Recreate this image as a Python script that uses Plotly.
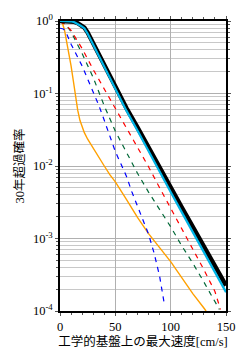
import plotly.graph_objects as go

# ---- data ----
x_black = [0, 5, 10, 13, 16, 19, 22, 25, 30, 40, 50, 60, 70, 80, 90, 100, 110, 120, 130, 140, 150]
y_black = [1, 1, 0.991, 0.973, 0.933, 0.875, 0.813, 0.692, 0.49, 0.245, 0.12, 0.063, 0.034,
           0.0178, 0.0095, 0.005, 0.0027, 0.00145, 7.8e-4, 4.2e-4, 2.24e-4]

x_cyan = [0, 5, 10, 13, 16, 19, 22, 25, 30, 40, 50, 60, 70, 80, 90, 100, 110, 120, 130, 140, 150]
y_cyan = [1, 1, 0.991, 0.962, 0.916, 0.855, 0.791, 0.668, 0.47, 0.232, 0.112, 0.058, 0.0308,
          0.0159, 0.00843, 0.00437, 0.00231, 0.00122, 6.5e-4, 3.43e-4, 1.82e-4]

x_red = [0, 5, 10, 15, 20, 30, 40, 50, 60, 70, 80, 90, 100, 110, 120, 130, 140, 145]
y_red = [0.977, 0.891, 0.741, 0.562, 0.417, 0.214, 0.115, 0.063, 0.0339, 0.0182, 0.00977,
         0.00501, 0.00263, 0.00138, 7.24e-4, 3.72e-4, 1.86e-4, 1.05e-4]

x_green = [0, 5, 10, 15, 20, 30, 40, 50, 60, 70, 80, 90, 100, 110, 120, 130, 140, 144]
y_green = [0.989, 0.912, 0.708, 0.513, 0.355, 0.166, 0.0676, 0.0302, 0.0151, 0.00794, 0.00437,
           0.00251, 0.00145, 7.94e-4, 4.57e-4, 2.51e-4, 1.35e-4, 1.05e-4]

x_blue = [0, 3, 5, 10, 15, 20, 25, 30, 35, 40, 45, 50, 55, 60, 65, 70, 75, 80, 85, 90, 94]
y_blue = [0.794, 0.776, 0.724, 0.479, 0.339, 0.24, 0.158, 0.105, 0.0692, 0.0427, 0.0263, 0.0158,
          0.0107, 0.00724, 0.00437, 0.00275, 0.00178, 0.00115, 6.31e-4, 3.02e-4, 1.32e-4]

x_orange = [0, 2, 4, 6, 8, 10, 12, 14, 16, 18, 20, 22, 25, 30, 35, 40, 45, 50, 60, 70, 80, 90,
            100, 110, 120, 130, 132]
y_orange = [1, 0.955, 0.759, 0.537, 0.363, 0.24, 0.151, 0.0891, 0.0589, 0.0427, 0.0339, 0.0288,
            0.0234, 0.0174, 0.0129, 0.01, 0.00759, 0.00603, 0.00347, 0.00195, 0.00117, 7.59e-4,
            4.79e-4, 2.88e-4, 1.74e-4, 1.1e-4, 1.0e-4]

x_ticks = [0, 50, 100, 150]
y_ticks = [1, 0.1, 0.01, 0.001, 0.0001]
y_ticktext = ["10<sup>0</sup>", "10<sup>-1</sup>", "10<sup>-2</sup>", "10<sup>-3</sup>", "10<sup>-4</sup>"]
y_minor_mult = [2, 3, 4, 5, 6, 7, 8, 9]
y_minor = [m * d for d in [0.0001, 0.001, 0.01, 0.1] for m in y_minor_mult]

x_title = "工学的基盤上の最大速度[cm/s]"
y_title = "30年超過確率"

fig = go.Figure()
fig.add_trace(go.Scatter(x=x_orange, y=y_orange, mode="lines",
                         line=dict(color="#FFA000", width=1.4)))
fig.add_trace(go.Scatter(x=x_blue, y=y_blue, mode="lines",
                         line=dict(color="#0000FF", width=1.2, dash="5px,5px")))
fig.add_trace(go.Scatter(x=x_green, y=y_green, mode="lines",
                         line=dict(color="#006837", width=1.2, dash="5px,5px")))
fig.add_trace(go.Scatter(x=x_red, y=y_red, mode="lines",
                         line=dict(color="#FF0000", width=1.2, dash="5px,5px")))
fig.add_trace(go.Scatter(x=x_black, y=y_black, mode="lines",
                         line=dict(color="#000000", width=4.5)))
fig.add_trace(go.Scatter(x=x_cyan, y=y_cyan, mode="lines",
                         line=dict(color="#00B4E6", width=2.2)))

serif = "Liberation Serif, Noto Sans CJK JP, serif"

fig.update_layout(
    width=247, height=357,
    margin=dict(l=60, r=20, t=16, b=45),
    paper_bgcolor="white", plot_bgcolor="white",
    showlegend=False,
    font=dict(family=serif, size=12, color="black"),
)
fig.update_xaxes(
    range=[0, 150], tickvals=x_ticks,
    showgrid=True, gridcolor="#b0b0b0", gridwidth=1,
    showline=True, linecolor="black", linewidth=1.5, mirror="allticks",
    ticks="outside", ticklen=3, tickcolor="#555",
    minor=dict(dtick=10, ticks="outside", ticklen=2, tickcolor="#555", showgrid=False),
    zeroline=False,
    tickfont=dict(family=serif, size=12.5),
    title=dict(text=x_title, font=dict(family=serif, size=12.5), standoff=2),
)
fig.update_yaxes(
    type="log", range=[-4, 0], tickvals=y_ticks, ticktext=y_ticktext,
    showgrid=True, gridcolor="#b0b0b0", gridwidth=1,
    showline=True, linecolor="black", linewidth=1.5, mirror="allticks",
    ticks="outside", ticklen=3, tickcolor="#555",
    minor=dict(tickvals=y_minor, ticks="outside", ticklen=2, tickcolor="#555", showgrid=True,
               gridcolor="#c8c8c8", gridwidth=1),
    zeroline=False,
    tickfont=dict(family=serif, size=12.5),
    title=dict(text=y_title, font=dict(family=serif, size=12.5), standoff=6),
)

fig.write_html("out.html")
